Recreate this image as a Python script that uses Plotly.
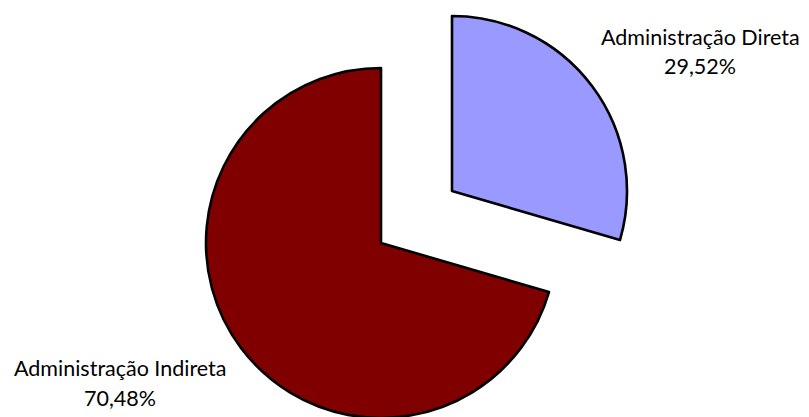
import plotly.graph_objects as go

labels = ["Administração Direta", "Administração Indireta"]
values = [29.52, 70.48]
colors = ["#9999FF", "#800000"]

W, H = 809, 417
OFF = 8  # page body margin offset

def px_dom(cx, cy, r):
    cx -= OFF
    cy -= OFF
    return dict(x=[(cx - r) / W, (cx + r) / W],
                y=[(H - cy - r) / H, (H - cy + r) / H])

fig = go.Figure()
fig.add_trace(go.Pie(
    labels=labels, values=values, sort=False, direction="clockwise", rotation=0,
    marker=dict(colors=["rgba(0,0,0,0)", colors[1]],
                line=dict(color="black", width=[0, 2.6])),
    textinfo="none", showlegend=False, hoverinfo="label+percent",
    domain=px_dom(381, 243, 175),
))
fig.add_trace(go.Pie(
    labels=labels, values=values, sort=False, direction="clockwise", rotation=0,
    marker=dict(colors=[colors[0], "rgba(0,0,0,0)"],
                line=dict(color="black", width=[2.6, 0])),
    textinfo="none", showlegend=False, hoverinfo="label+percent",
    domain=px_dom(452, 191, 175),
))

label_pos = [((700, 37), (700, 66)), ((120, 368), (120, 398))]
for lab, val, ((x1, y1), (x2, y2)) in zip(labels, values, label_pos):
    pct = f"{val:.2f}".replace(".", ",") + "%"
    for txt, x, y in ((lab, x1, y1), (pct, x2, y2)):
        fig.add_annotation(text=txt, x=(x - OFF) / W, y=(H - (y - OFF)) / H,
                           xref="paper", yref="paper",
                           xanchor="center", yanchor="middle", showarrow=False,
                           font=dict(family="Lato", size=21.5, color="#000000"))

fig.update_layout(width=W, height=H, margin=dict(l=0, r=0, t=0, b=0),
                  paper_bgcolor="white", plot_bgcolor="white")
fig.write_html("out.html")
